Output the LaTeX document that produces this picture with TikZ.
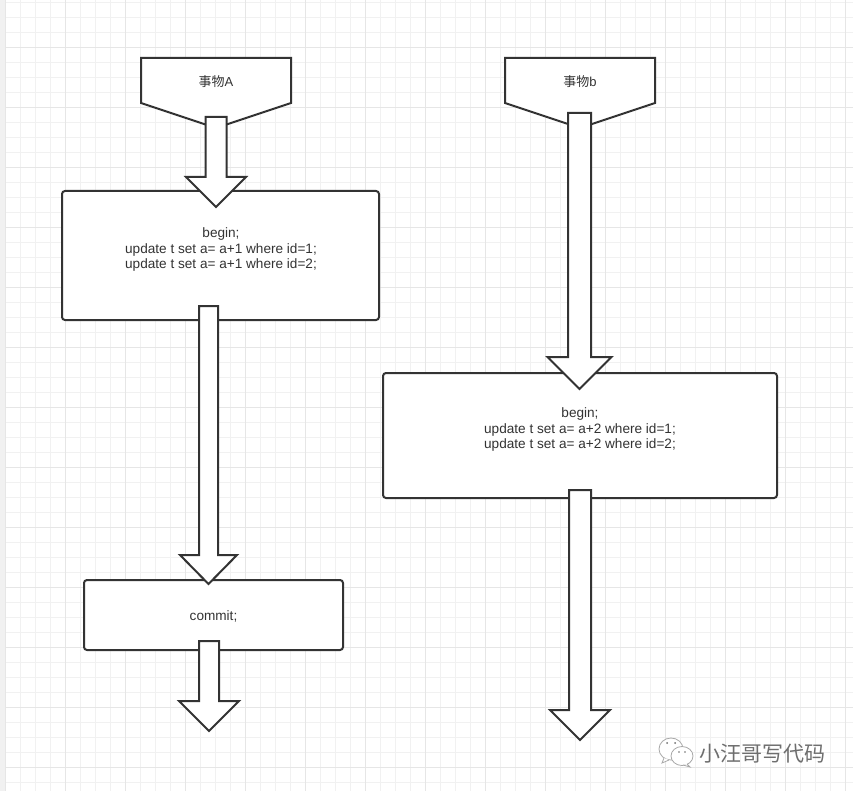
\documentclass[tikz,border=0pt]{standalone}
\usepackage{fontspec}
\setmainfont{Liberation Sans}
\newfontfamily\cjk{Noto Sans CJK SC}
\usetikzlibrary{calc}
\definecolor{ink}{HTML}{333333}
\definecolor{gridminor}{HTML}{F1F1F1}
\definecolor{gridmajor}{HTML}{E6E6E6}
\definecolor{strip}{HTML}{F1F1F1}
\definecolor{wm}{HTML}{6E6E6E}
\tikzset{
  flowbox/.style={draw=ink,line width=2pt,fill=white,rounded corners=3pt,inner sep=0pt,outer sep=0pt},
  flowline/.style={draw=ink,line width=2pt,fill=white,line join=miter},
  flowtext/.style={text=ink,font=\fontsize{13.6}{15.6}\selectfont,align=center,inner sep=0pt},
  cjktext/.style={text=ink,font=\cjk\fontsize{13}{15.6}\selectfont,inner sep=0pt},
  wmline/.style={draw=wm!60,line width=0.8pt,fill=white},
}
% from, to, shaft half width, head half width, head length
\newcommand{\blockarrow}[5]{%
  \draw[flowline] ($(#1)+(-#3,0)$) -- ($(#1)+(#3,0)$) -- ($(#2)+(#3,-#5)$) -- ($(#2)+(#4,-#5)$)
    -- (#2) -- ($(#2)+(-#4,-#5)$) -- ($(#2)+(-#3,-#5)$) -- cycle;}
\begin{document}
\begin{tikzpicture}[x=1pt,y=-1pt]
\useasboundingbox (0,0) rectangle (853,791);
\fill[white] (0,0) rectangle (853,791);
\fill[strip] (0,0) rectangle (5,791);
\foreach \k in {0,...,56} {\draw[gridminor,line width=1pt] ({5.5+15*\k},0) -- ({5.5+15*\k},791);}
\foreach \k in {0,...,52} {\draw[gridminor,line width=1pt] (5,{2.5+15*\k}) -- (853,{2.5+15*\k});}
\foreach \k in {0,...,14} {\draw[gridmajor,line width=1pt] ({5.5+60*\k},0) -- ({5.5+60*\k},791);}
\foreach \k in {0,...,12} {\draw[gridmajor,line width=1pt] (5,{47.5+60*\k}) -- (853,{47.5+60*\k});}

% off-page shapes
\draw[flowline] (141,58) -- (291,58) -- (291,103) -- (216,128) -- (141,103) -- cycle;
\draw[flowline] (505,58) -- (655,58) -- (655,103) -- (580,128) -- (505,103) -- cycle;
\node[cjktext] (ta) at (216,82) {事物{\fontspec{Liberation Sans}A}};
\node[cjktext] (tb) at (580,82) {事物{\fontspec{Liberation Sans}b}};
\coordinate (sa) at (216,117);
\coordinate (sb) at (579.5,113);

% boxes
\node[flowbox,minimum width=317pt,minimum height=129pt] (box1) at (220.5,255.5) {};
\node[flowbox,minimum width=394pt,minimum height=125pt] (box2) at (580,435.5) {};
\node[flowbox,minimum width=259pt,minimum height=70pt] (box3) at (213.5,615) {};
\node[flowtext,anchor=center] (t1) at (221,249.5) {begin;\\update t set a= a+1 where id=1;\\update t set a= a+1 where id=2;};
\node[flowtext,anchor=center] (t2) at (580,429.5) {begin;\\update t set a= a+2 where id=1;\\update t set a= a+2 where id=2;};
\node[flowtext,anchor=center] (t3) at (213.5,616) {commit;};

% arrows
\coordinate (e1) at (216,207);
\coordinate (s2) at (208.5,306);
\coordinate (e2) at (208.5,584);
\coordinate (s3) at (209,641);
\coordinate (e3) at (209,731);
\coordinate (e4) at (579.5,389);
\coordinate (s5) at (580,490);
\coordinate (e5) at (580,740);
\blockarrow{sa}{e1}{10.5}{30}{30}
\blockarrow{s2}{e2}{9.5}{28.5}{29}
\blockarrow{s3}{e3}{10}{30}{30}
\blockarrow{sb}{e4}{11.5}{32}{32}
\blockarrow{s5}{e5}{11}{30}{30}

% watermark
\draw[wmline] (671,749) ellipse[x radius=12,y radius=11];
\draw[wmline] (664,758) -- (662,763) -- (669,760);
\draw[wmline] (682,756) ellipse[x radius=11,y radius=9.5];
\draw[wmline] (687,764) -- (690,767) -- (683,765);
\fill[wm] (667,743) circle[radius=1] (675,743) circle[radius=1] (679,752) circle[radius=0.9] (685,752) circle[radius=0.9];
\node[inner sep=0pt,text=wm,font=\cjk\fontsize{21}{22}\selectfont] (wmark) at (762.5,753.5) {小汪哥写代码};
\end{tikzpicture}
\end{document}
